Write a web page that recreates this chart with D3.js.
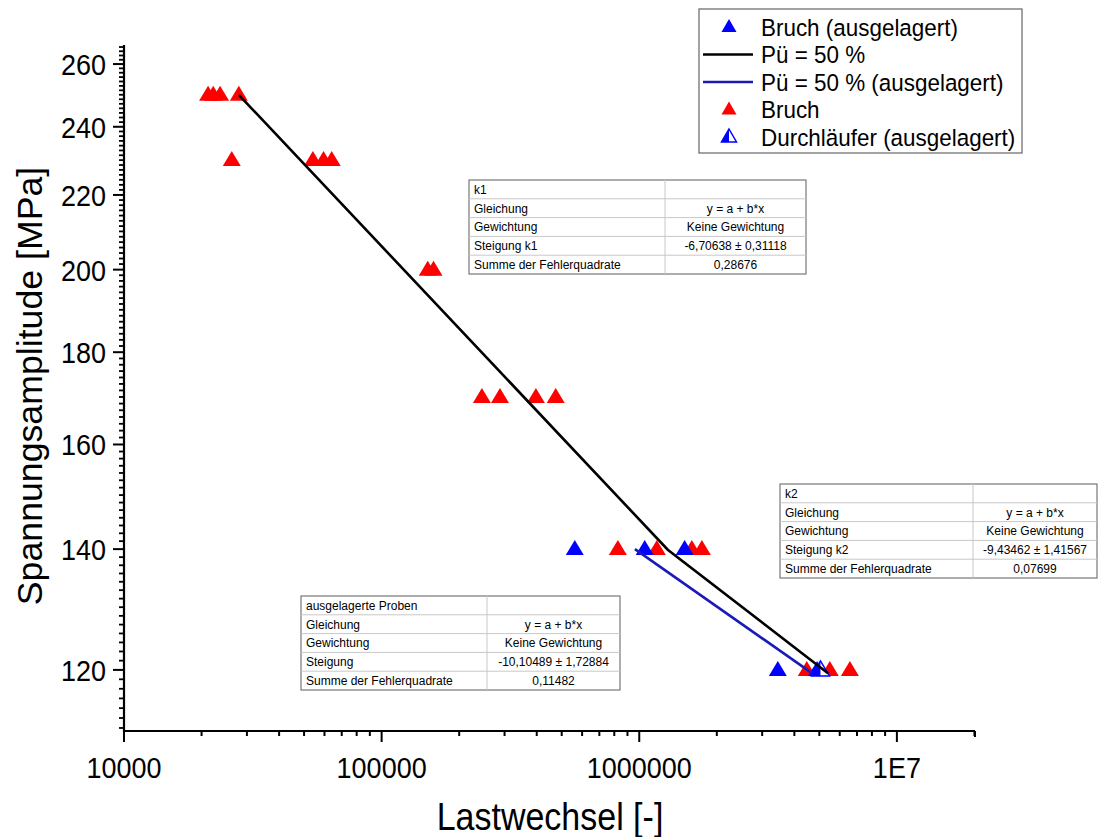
<!DOCTYPE html>
<html>
<head>
<meta charset="utf-8">
<script src="https://cdn.jsdelivr.net/npm/d3@7"></script>
<style>
  body { margin: 0; background: #fff; }
  svg { font-family: Arial, "Liberation Sans", sans-serif; }
</style>
</head>
<body>
<svg id="chart"></svg>
<script>
// Daten
const bruchN = [21200, 22200, 23600, 27900, 26200, 54100, 59500, 64000, 151000, 159000,
                245000, 288000, 397000, 474000, 826000, 1170000, 1600000, 1750000,
                4470000, 5490000, 6570000]
const bruchS = [250, 250, 250, 250, 230, 230, 230, 230, 200, 200,
                170, 170, 170, 170, 140, 140, 140, 140,
                120, 120, 120]

const ausgN = [562000, 1050000, 1500000, 3450000, 4900000]
const ausgS = [140, 140, 140, 120, 120]

const durchN = [5050000]
const durchS = [120]

// Pü = 50 % (zwei Äste k1 / k2)
const fitN = [27900, 1290000, 5400000]
const fitS = [250, 139.9, 119.5]

// Pü = 50 % (ausgelagert)
const fitAusgN = [962000, 4680000]
const fitAusgS = [140, 119.5]

const xTickVals = [1e4, 1e5, 1e6, 1e7]
const xTickLabels = ["10000", "100000", "1000000", "1E7"]
const yTickVals = [120, 140, 160, 180, 200, 220, 240, 260]

const tables = [
  {x: 469, y: 180, w: 337, split: 196, rows: [
    ["k1", ""],
    ["Gleichung", "y = a + b*x"],
    ["Gewichtung", "Keine Gewichtung"],
    ["Steigung k1", "-6,70638 ± 0,31118"],
    ["Summe der Fehlerquadrate", "0,28676"]]},
  {x: 780, y: 484, w: 317, split: 193, rows: [
    ["k2", ""],
    ["Gleichung", "y = a + b*x"],
    ["Gewichtung", "Keine Gewichtung"],
    ["Steigung k2", "-9,43462 ± 1,41567"],
    ["Summe der Fehlerquadrate", "0,07699"]]},
  {x: 301, y: 596, w: 319, split: 186, rows: [
    ["ausgelagerte Proben", ""],
    ["Gleichung", "y = a + b*x"],
    ["Gewichtung", "Keine Gewichtung"],
    ["Steigung", "-10,10489 ± 1,72884"],
    ["Summe der Fehlerquadrate", "0,11482"]]}
]

const legendItems = [
  {label: "Bruch (ausgelagert)", type: "tri", color: "#0000ff"},
  {label: "Pü = 50 %", type: "line", color: "#000000"},
  {label: "Pü = 50 % (ausgelagert)", type: "line", color: "#1a1ab8"},
  {label: "Bruch", type: "tri", color: "#ff0000"},
  {label: "Durchläufer (ausgelagert)", type: "half", color: "#0000ff"}
]

const W = 1100, H = 837
const svg = d3.select("#chart").attr("width", W).attr("height", H)

const x = d3.scaleLog().domain([1e4, 2.01e7]).range([124, 975])
const y = d3.scaleLog().domain([111.0, 266.4]).range([731, 45])

// Schrift ist im Original etwas in die Höhe gezogen
const stretch = 1.12

// Dreieck-Pfade
const triW = 18, triH = 15
const triPath = `M0,${-triH * 0.6}L${triW / 2},${triH * 0.4}L${-triW / 2},${triH * 0.4}Z`
const halfLeft = `M0,${-triH * 0.6}L0,${triH * 0.4}L${-triW / 2},${triH * 0.4}Z`

// Achsen
const xAxisG = svg.append("g").attr("transform", `translate(0,${y.range()[0]})`)
xAxisG.append("line").attr("x1", x.range()[0] - 1).attr("x2", x.range()[1])
  .attr("stroke", "#000").attr("stroke-width", 2.2)
const xMinor = []
for (let d = 1e4; d < 2.01e7; d *= 10) {
  for (let k = 2; k <= 9; k++) if (d * k <= 2.01e7) xMinor.push(d * k)
}
xAxisG.selectAll(".xminor").data(xMinor).enter().append("line")
  .attr("x1", d => x(d)).attr("x2", d => x(d)).attr("y1", 0).attr("y2", 5)
  .attr("stroke", "#000").attr("stroke-width", 2)
xAxisG.selectAll(".xmajor").data(xTickVals).enter().append("line")
  .attr("x1", d => x(d)).attr("x2", d => x(d)).attr("y1", 0).attr("y2", 11)
  .attr("stroke", "#000").attr("stroke-width", 2)
xAxisG.append("line").attr("x1", x.range()[1]).attr("x2", x.range()[1]).attr("y1", 0).attr("y2", 6)
  .attr("stroke", "#000").attr("stroke-width", 2)
xAxisG.selectAll(".xlab").data(xTickVals).enter().append("text")
  .attr("transform", d => `translate(${x(d)},47) scale(1,${stretch})`)
  .attr("text-anchor", "middle").attr("font-size", 27)
  .text((d, i) => xTickLabels[i])

const yAxisG = svg.append("g").attr("transform", `translate(${x.range()[0]},0)`)
yAxisG.append("line").attr("y1", y.range()[0] + 1).attr("y2", y.range()[1])
  .attr("stroke", "#000").attr("stroke-width", 2.2)
const yMinor = d3.range(120 - 20 / 14 * 6, 266.4, 20 / 14).filter(v => v > 111 && Math.abs(((v - 120) / 20) - Math.round((v - 120) / 20)) > 0.01)
yAxisG.selectAll(".yminor").data(yMinor).enter().append("line")
  .attr("x1", -5).attr("x2", 0).attr("y1", d => y(d)).attr("y2", d => y(d))
  .attr("stroke", "#000").attr("stroke-width", 1.8)
yAxisG.selectAll(".ymajor").data(yTickVals).enter().append("line")
  .attr("x1", -11).attr("x2", 0).attr("y1", d => y(d)).attr("y2", d => y(d))
  .attr("stroke", "#000").attr("stroke-width", 2)
yAxisG.selectAll(".ylab").data(yTickVals).enter().append("text")
  .attr("transform", d => `translate(-18,${y(d)}) scale(1,${stretch})`)
  .attr("dy", "0.36em")
  .attr("text-anchor", "end").attr("font-size", 27)
  .text(d => d)

// Achsentitel
svg.append("text").attr("transform", `translate(550,830) scale(1,${stretch})`)
  .attr("text-anchor", "middle").attr("font-size", 34)
  .text("Lastwechsel [-]")
svg.append("text").attr("transform", `translate(42,386) rotate(-90) scale(1.05,1.05)`)
  .attr("text-anchor", "middle").attr("font-size", 34)
  .text("Spannungsamplitude [MPa]")

// Punkte
const pts = svg.append("g")
pts.selectAll(".bruch").data(bruchN).enter().append("path")
  .attr("d", triPath).attr("fill", "#ff0000")
  .attr("transform", (d, i) => `translate(${x(d)},${y(bruchS[i])})`)
pts.selectAll(".ausg").data(ausgN).enter().append("path")
  .attr("d", triPath).attr("fill", "#0000ff")
  .attr("transform", (d, i) => `translate(${x(d)},${y(ausgS[i])})`)
const durch = pts.selectAll(".durch").data(durchN).enter().append("g")
  .attr("transform", (d, i) => `translate(${x(d)},${y(durchS[i])})`)
durch.append("path").attr("d", triPath).attr("fill", "#fff").attr("stroke", "#0000ff").attr("stroke-width", 1.5)
durch.append("path").attr("d", halfLeft).attr("fill", "#0000ff")

// Linien
const line = d3.line().x(d => x(d[0])).y(d => y(d[1]))
svg.append("path").datum(fitN.map((d, i) => [d, fitS[i]]))
  .attr("d", line).attr("fill", "none").attr("stroke", "#000").attr("stroke-width", 2.6)
svg.append("path").datum(fitAusgN.map((d, i) => [d, fitAusgS[i]]))
  .attr("d", line).attr("fill", "none").attr("stroke", "#1a1ab8").attr("stroke-width", 2.6)

// Tabellen
const rowH = 18.8
tables.forEach(t => {
  const g = svg.append("g").attr("transform", `translate(${t.x},${t.y})`)
  g.append("rect").attr("width", t.w).attr("height", rowH * t.rows.length)
    .attr("fill", "#fff").attr("stroke", "#777").attr("stroke-width", 1.2)
  t.rows.forEach((r, i) => {
    if (i > 0) g.append("line").attr("x1", 0).attr("x2", t.w).attr("y1", i * rowH).attr("y2", i * rowH)
      .attr("stroke", "#c8c8c8").attr("stroke-width", 1)
    g.append("text").attr("x", 5).attr("y", i * rowH + rowH / 2).attr("dy", "0.36em")
      .attr("font-size", 12).text(r[0])
    g.append("text").attr("x", t.split + (t.w - t.split) / 2).attr("y", i * rowH + rowH / 2).attr("dy", "0.36em")
      .attr("text-anchor", "middle").attr("font-size", 12).text(r[1])
  })
  g.append("line").attr("x1", t.split).attr("x2", t.split).attr("y1", 0).attr("y2", rowH * t.rows.length)
    .attr("stroke", "#c8c8c8").attr("stroke-width", 1)
})

// Legende
const lg = svg.append("g").attr("transform", "translate(699,9)")
lg.append("rect").attr("width", 323).attr("height", 144)
  .attr("fill", "#fff").attr("stroke", "#666").attr("stroke-width", 1.2)
legendItems.forEach((it, i) => {
  const cy = 18 + i * 27.5
  if (it.type === "line") {
    lg.append("line").attr("x1", 4).attr("x2", 54).attr("y1", cy).attr("y2", cy)
      .attr("stroke", it.color).attr("stroke-width", 2.4)
  } else if (it.type === "tri") {
    lg.append("path").attr("d", `M0,-9L7.5,4L-7.5,4Z`).attr("fill", it.color)
      .attr("transform", `translate(30,${cy + 1})`)
  } else {
    const h = lg.append("g").attr("transform", `translate(30,${cy + 1})`)
    h.append("path").attr("d", `M0,-9L7.5,4L-7.5,4Z`).attr("fill", "#fff").attr("stroke", it.color).attr("stroke-width", 1.5)
    h.append("path").attr("d", `M0,-9L0,4L-7.5,4Z`).attr("fill", it.color)
  }
  lg.append("text").attr("transform", `translate(62,${cy}) scale(1.02,1.08)`).attr("dy", "0.36em")
    .attr("font-size", 22).text(it.label)
})
</script>
</body>
</html>
